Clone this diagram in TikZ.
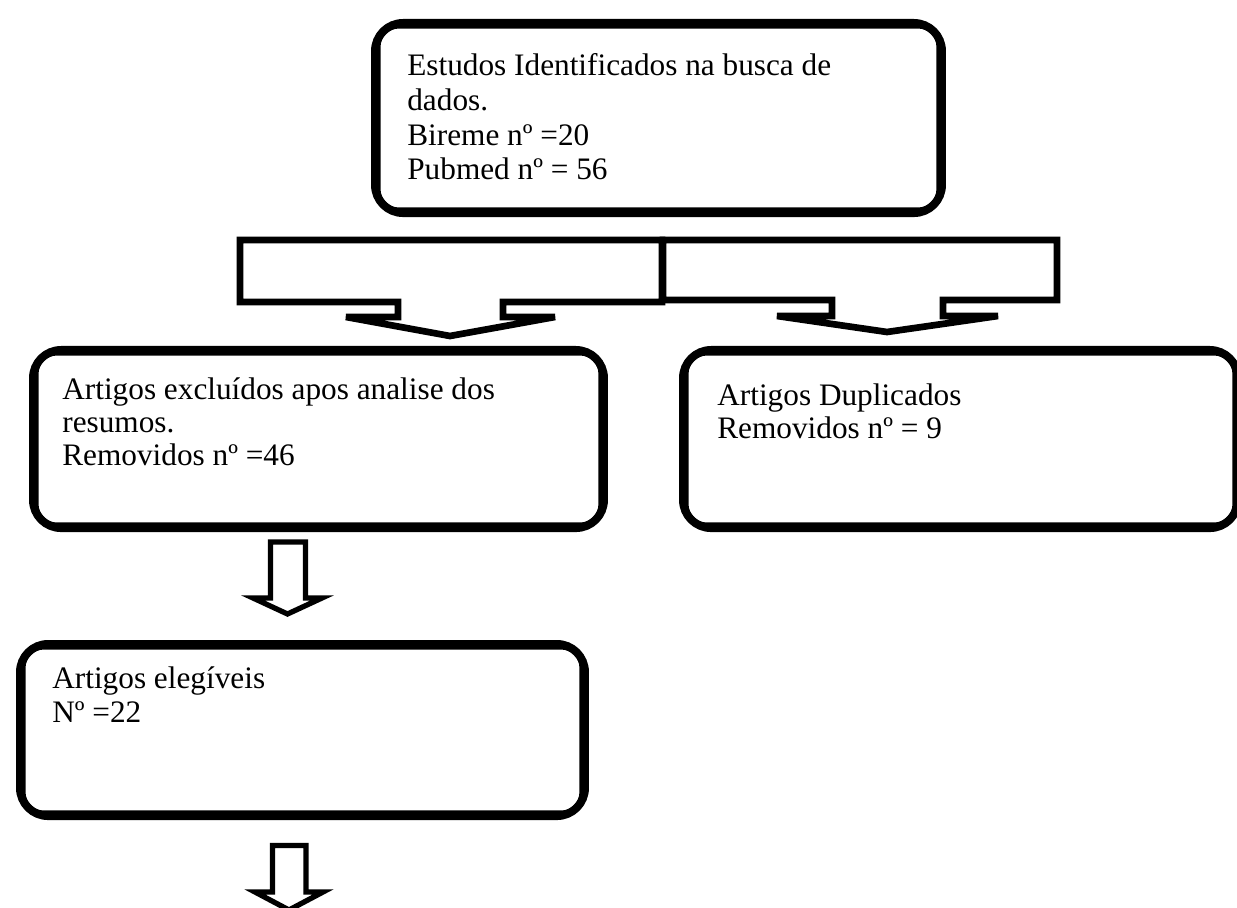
\documentclass[tikz,border=0pt]{standalone}
\usepackage{fontspec}
\setmainfont{Liberation Serif}

\begin{document}
\begin{tikzpicture}[x=0.02cm, y=-0.02cm,
		caixa/.style = {draw, line width=4.6pt, rounded corners=16pt,
			inner sep=0pt, anchor=north west},
		fina/.style = {draw, line width=1.2pt, rounded corners=11pt},
		texto/.style = {anchor=base west, align=left, inner sep=0pt,
			font=\fontsize{17.8}{#1}\selectfont},
		texto/.default = 18.8,
		chave/.style = {draw, line width=3.8pt, line join=miter},
		seta/.style = {draw, line width=3pt, line join=miter}]
	
	\useasboundingbox (0,0) rectangle (1237,908);
	
	% caixas
	\node[caixa, minimum width=11.34cm, minimum height=3.8cm] (busca) at (371,19) {};
	\node[caixa, minimum width=11.42cm, minimum height=3.56cm] (excl) at (29,346) {};
	\node[caixa, minimum width=11.1cm, minimum height=3.56cm] (dupl) at (679,346) {};
	\node[caixa, minimum width=11.3cm, minimum height=3.44cm] (eleg) at (16,640) {};
	
	% linha fina de dentro
	\foreach \c in {busca,excl,dupl,eleg}
		\draw[fina] ([shift={(8.5,8.5)}]\c.north west) rectangle ([shift={(-8.5,-8.5)}]\c.south east);
	
	% texto (ancorado na linha de base da ultima linha)
	\node[texto=19.8] (busca-t) at (407,180) {Estudos Identificados na busca de\\dados.\\Bireme nº =20\\Pubmed nº = 56};
	\node[texto] (excl-t) at (62,466) {Artigos excluídos apos analise dos\\resumos.\\Removidos nº =46};
	\node[texto] (dupl-t) at (717,439) {Artigos Duplicados\\Removidos nº = 9};
	\node[texto] (eleg-t) at (52,722) {Artigos elegíveis\\Nº =22};
	
	% chaves
	\draw[chave] (240,240) -- (662,240) -- (662,302) -- (503,302) -- (503,317) -- (555,317)
		-- (450,336) -- (346,317) -- (398,317) -- (398,302) -- (240,302) -- cycle;
	\draw[chave] (663,240) -- (1057,240) -- (1057,300) -- (943,300) -- (943,316) -- (998,316)
		-- (887,332) -- (777,316) -- (832,316) -- (832,300) -- (663,300) -- cycle;
	
	% setas
	\draw[seta] (270.5,542) -- (305.5,542) -- (305.5,598) -- (322,598) -- (287.5,614)
		-- (253,598) -- (270.5,598) -- cycle;
	\draw[seta] (272.5,845.5) -- (306,845.5) -- (306,892) -- (323,892) -- (289,910)
		-- (255,892) -- (272.5,892) -- cycle;
\end{tikzpicture}
\end{document}
